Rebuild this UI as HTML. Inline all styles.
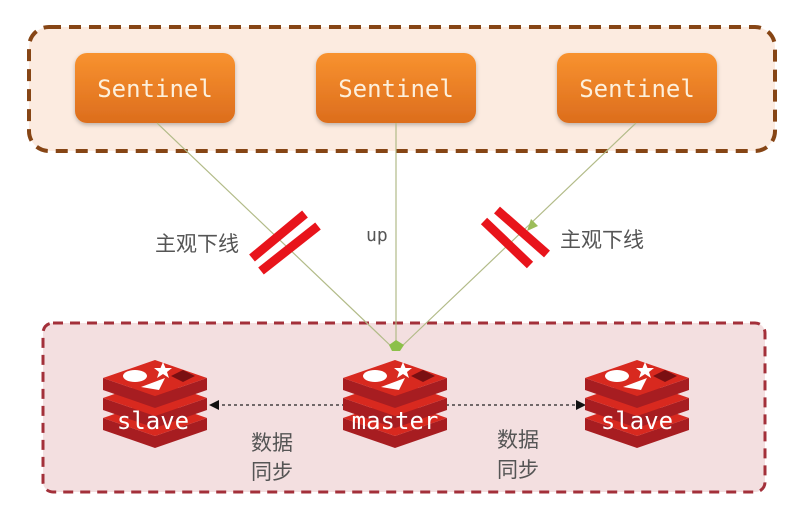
<!DOCTYPE html>
<html><head><meta charset="utf-8"><style>
html,body{margin:0;padding:0;background:#fff;}
svg{display:block}
.cn{font-family:"Liberation Sans","Noto Sans CJK SC",sans-serif;font-size:21px;fill:#555}
.mono{font-family:"DejaVu Sans Mono","Liberation Mono",monospace}
</style></head><body>
<svg width="801" height="516" viewBox="0 0 801 516" xmlns="http://www.w3.org/2000/svg">
<defs>
<linearGradient id="og" x1="0" y1="0" x2="0" y2="1"><stop offset="0" stop-color="#f8922f"/><stop offset="1" stop-color="#dc6d1d"/></linearGradient>
<filter id="sh" x="-10%" y="-10%" width="120%" height="130%"><feDropShadow dx="0" dy="2" stdDeviation="2" flood-color="#000" flood-opacity="0.25"/></filter>
<g id="layer">
<polygon points="-52,18 0,36 52,18 52,30 0,48 -52,30" fill="#a71d21"/>
<polygon points="0,0 52,18 0,36 -52,18" fill="#d8291f"/>
</g>
<g id="redis">
<use href="#layer" y="40"/>
<use href="#layer" y="20"/>
<use href="#layer" y="0"/>
<ellipse cx="-20" cy="16" rx="12" ry="6" fill="#fff"/>
<polygon points="8,2 10.5,8 17,8 12,12 14,18 8,14 2,18 4,12 -1,8 5.5,8" fill="#fff"/>
<polygon points="-14,27 10,18 4,30" fill="#fff"/>
<polygon points="16,16 28,10 40,16 28,22" fill="#7a0f12"/>
</g>
</defs>
<rect x="29" y="27" width="746" height="124" rx="20" fill="#fcebe0" stroke="#864515" stroke-width="4" stroke-dasharray="12,8"/>
<rect x="43" y="323" width="722" height="169" rx="10" fill="#f3dfe0" stroke="#a3303a" stroke-width="3" stroke-dasharray="10,7"/>
<g filter="url(#sh)">
<rect x="75" y="53" width="160" height="70" rx="12" fill="url(#og)"/>
<rect x="316" y="53" width="160" height="70" rx="12" fill="url(#og)"/>
<rect x="557" y="53" width="160" height="70" rx="12" fill="url(#og)"/>
</g>
<g class="mono" font-size="24" fill="#fdf0dc" text-anchor="middle">
<text x="155" y="97">Sentinel</text><text x="396" y="97">Sentinel</text><text x="637" y="97">Sentinel</text>
</g>
<g stroke="#b2bb88" stroke-width="1.2" fill="none">
<line x1="157" y1="123" x2="393" y2="348"/>
<line x1="396" y1="123" x2="396" y2="348"/>
<line x1="636" y1="123" x2="400" y2="348"/>
</g>
<polygon points="389,345 396,340 404,345 400,351 392,351" fill="#8cc04a"/>
<polygon points="527,231 531,219 538,226" fill="#9cbd5a"/>
<g stroke="#e8141b" stroke-width="9">
<line x1="252" y1="258" x2="305" y2="214"/>
<line x1="261" y1="271" x2="318" y2="226"/>
<line x1="484" y1="221" x2="530" y2="265"/>
<line x1="497" y1="210" x2="547" y2="254"/>
</g>
<text class="cn" x="155" y="251">主观下线</text>
<text class="mono" x="366" y="241" font-size="18" fill="#555">up</text>
<text class="cn" x="560" y="247">主观下线</text>
<g stroke="#222" stroke-width="1.2" stroke-dasharray="3,3">
<line x1="216" y1="405" x2="345" y2="405"/>
<line x1="446" y1="405" x2="578" y2="405"/>
</g>
<polygon points="209,405 219,400 219,410" fill="#111"/>
<polygon points="586,405 576,400 576,410" fill="#111"/>
<use href="#redis" x="155" y="360"/>
<use href="#redis" x="395" y="360"/>
<use href="#redis" x="637" y="360"/>
<g class="mono" font-size="24" fill="#fff" text-anchor="middle">
<text x="153" y="429">slave</text><text x="395" y="429">master</text><text x="637" y="429">slave</text>
</g>
<text class="cn" x="251" y="450">数据</text><text class="cn" x="251" y="479">同步</text>
<text class="cn" x="497" y="447">数据</text><text class="cn" x="497" y="477">同步</text>
</svg>
</body></html>
